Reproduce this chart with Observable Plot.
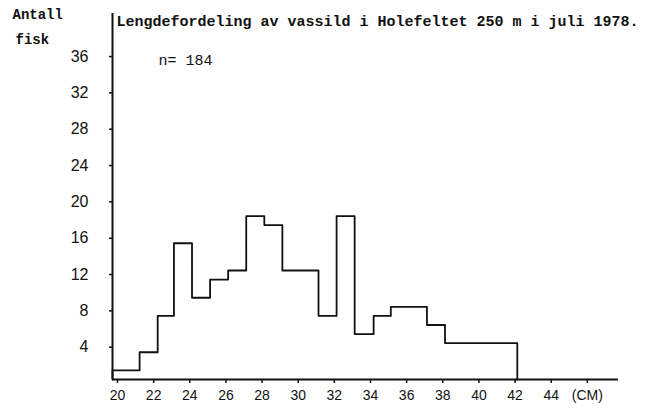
<!DOCTYPE html>
<html><head><meta charset="utf-8">
<script src="https://cdn.jsdelivr.net/npm/d3@7"></script>
<script src="https://cdn.jsdelivr.net/npm/@observablehq/plot@0.6"></script>
<style>body{margin:0;background:#fff} svg{display:block;overflow:visible}</style>
</head><body><div id="chart"></div>
<script>
// Data (length classes in cm, number of fish)
const binEdges = [20, 21.5, 22.5, 23.4, 24.4, 25.4, 26.4, 27.4, 28.4, 29.4, 31.4, 32.4, 33.4, 34.45, 35.4, 37.4, 38.4, 42.4];
const counts   = [1, 3, 7, 15, 9, 11, 12, 18, 17, 12, 7, 18, 5, 7, 8, 6, 4];
const xTicks = [20, 22, 24, 26, 28, 30, 32, 34, 36, 38, 40, 42, 44, 46];
const xTickLabels = ["20", "22", "24", "26", "28", "30", "32", "34", "36", "38", "40", "42", "44", "(CM)"];
const yTicks = [4, 8, 12, 16, 20, 24, 28, 32, 36];
const titleText = "Lengdefordeling av vassild i Holefeltet 250 m i juli 1978.";
const sampleText = "n= 184";
const yLabelLines = ["Antall", "fisk"];

const steps = [{x: binEdges[0], y: 0}]
  .concat(counts.map((c, i) => ({x: binEdges[i], y: c})))
  .concat([{x: binEdges[binEdges.length - 1], y: counts[counts.length - 1]},
           {x: binEdges[binEdges.length - 1], y: 0}]);

const labelOf = new Map(xTicks.map((t, i) => [t, xTickLabels[i]]));

const chart = Plot.plot({
  width: 649,
  height: 408,
  marginLeft: 112,
  marginRight: 31,
  marginTop: 13,
  marginBottom: 29,
  style: {fontFamily: "Liberation Sans, sans-serif", color: "#111", background: "#fff"},
  x: {domain: [20, 48]},
  y: {domain: [0, 40.3]},
  marks: [
    Plot.ruleX([20], {y1: 0, y2: 40.3, stroke: "#111", strokeWidth: 2}),
    Plot.ruleY([0], {x1: 20, x2: 48, stroke: "#111", strokeWidth: 2}),
    Plot.axisX({ticks: xTicks, tickFormat: d => labelOf.get(d), tickSize: 4, tickPadding: 7, dx: 5,
      fontSize: 14, stroke: "#111", strokeWidth: 1.5, label: null}),
    Plot.axisY({ticks: yTicks, tickSize: 3, tickPadding: 21, dy: 4, fontSize: 16,
      stroke: "#111", strokeWidth: 1.5, label: null}),
    Plot.line(steps, {x: "x", y: "y", curve: "step-after", stroke: "#111", strokeWidth: 1.8}),
    Plot.text([titleText], {frameAnchor: "top-left", text: d => d, textAnchor: "start", lineAnchor: "bottom",
      dx: 4, dy: 12, fontFamily: "Liberation Mono, monospace", fontWeight: "bold", fontSize: 15, fill: "#111"}),
    Plot.text([sampleText], {frameAnchor: "top-left", text: d => d, textAnchor: "start", lineAnchor: "bottom",
      dx: 46, dy: 51, fontFamily: "Liberation Mono, monospace", fontSize: 15, fill: "#111"}),
    Plot.text([yLabelLines[0]], {frameAnchor: "top-left", text: d => d, textAnchor: "start", lineAnchor: "bottom",
      dx: -100, dy: 5, fontFamily: "Liberation Mono, monospace", fontWeight: "bold", fontSize: 14, fill: "#111"}),
    Plot.text([yLabelLines[1]], {frameAnchor: "top-left", text: d => d, textAnchor: "start", lineAnchor: "bottom",
      dx: -97, dy: 30, fontFamily: "Liberation Mono, monospace", fontWeight: "bold", fontSize: 14, fill: "#111"})
  ]
});
document.getElementById("chart").append(chart);
</script>
</body></html>
